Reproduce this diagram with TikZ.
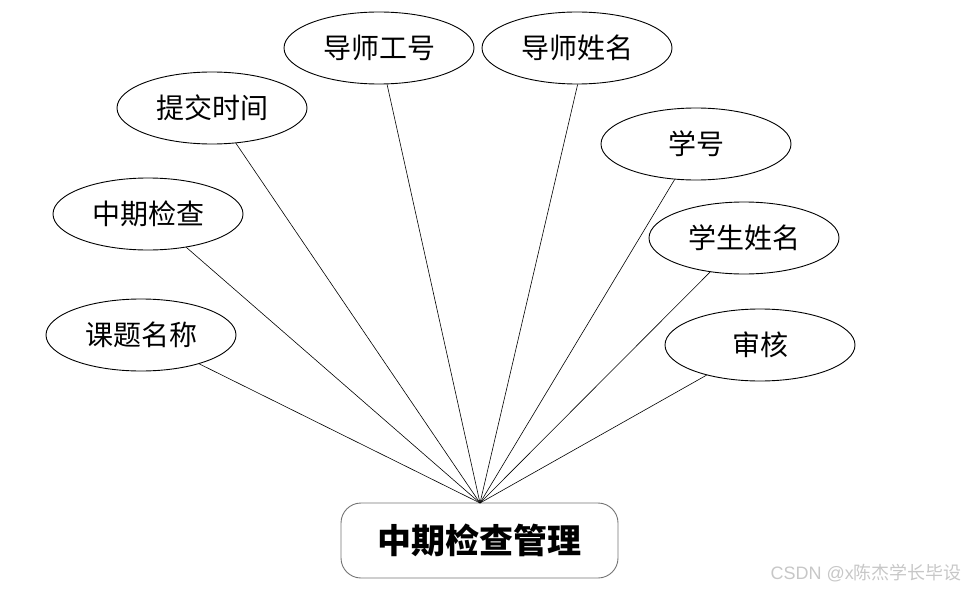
\documentclass[tikz,border=0pt]{standalone}
\usepackage{fontspec}
\newfontfamily\cjk{Noto Sans CJK SC}
\newfontfamily\lat{Liberation Sans}
\usetikzlibrary{shapes.geometric}
\tikzset{
  attr/.style={ellipse, draw=black, line width=0.9pt, minimum width=190pt, minimum height=72pt, inner sep=0pt, font=\cjk\fontsize{28}{32}\selectfont},
  entity/.style={draw=black!55, line width=0.9pt, rounded corners=20pt, minimum width=277pt, minimum height=75pt, inner sep=0pt, font=\cjk\bfseries\fontsize{34}{38}\selectfont},
  link/.style={draw=black, line width=0.6pt}
}
\begin{document}
\begin{tikzpicture}[x=1pt,y=-1pt]
\useasboundingbox (0,0) rectangle (965,591);
\node[entity] (main) at (479.5,540.5) {中期检查管理};
\coordinate (hub) at (480,503);
\node[attr] (tjsj) at (212,108) {提交时间};
\node[attr] (dsgh) at (379,48) {导师工号};
\node[attr] (dsxm) at (577,48) {导师姓名};
\node[attr] (xh) at (696,144) {学号};
\node[attr] (zqjc) at (148,214) {中期检查};
\node[attr] (xsxm) at (744,238) {学生姓名};
\node[attr] (ktmc) at (141,335) {课题名称};
\node[attr] (sh) at (760,345) {审核};
\foreach \n in {tjsj,dsgh,xh,zqjc,xsxm,ktmc,sh}
  \draw[link] (\n) -- (hub);
\draw[link] (dsxm.-89) -- (hub);
\node[anchor=east, text=black!22, font=\cjk\fontsize{18}{20}\selectfont, inner sep=0pt] (wm) at (962,573) {{\lat CSDN @x}陈杰学长毕设};
\end{tikzpicture}
\end{document}
